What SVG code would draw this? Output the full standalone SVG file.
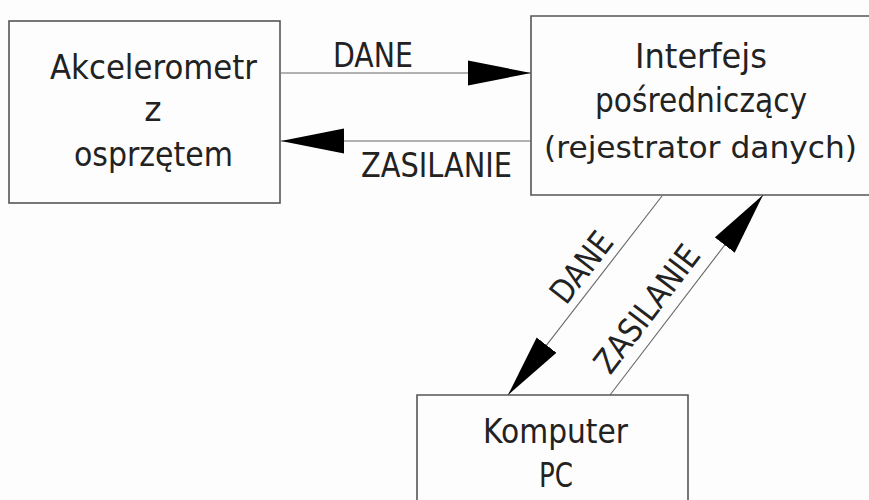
<svg xmlns="http://www.w3.org/2000/svg" width="869" height="500" viewBox="0 0 869 500">
  <style>
    .box { fill: none; stroke: #555; stroke-width: 1.6; }
    .lbl { font-family: "DejaVu Sans", "Liberation Sans", sans-serif; font-size: 33px; fill: #222; text-anchor: middle; }
    .conn { stroke: #666; stroke-width: 1.1; fill: none; }
  </style>
  <defs>
    <marker id="arr" markerUnits="userSpaceOnUse" markerWidth="64" markerHeight="26" viewBox="0 0 64 26" refX="63" refY="13" orient="auto">
      <path d="M0,0.5 L63,13 L0,25.5 Z" fill="#000"/>
    </marker>
  </defs>
  <rect width="869" height="500" fill="#fdfdfd"/>

  <g id="node-akcelerometr">
    <rect class="box" x="9" y="21" width="271" height="182"/>
    <text class="lbl" x="153.5" y="79" textLength="207" lengthAdjust="spacingAndGlyphs">Akcelerometr</text>
    <text class="lbl" x="153" y="121">z</text>
    <text class="lbl" x="153.5" y="166" textLength="159" lengthAdjust="spacingAndGlyphs">osprzętem</text>
  </g>

  <g id="node-interfejs">
    <path class="box" d="M869,16 L531,16 L531,195 L869,195"/>
    <text class="lbl" x="701" y="68" textLength="132" lengthAdjust="spacingAndGlyphs">Interfejs</text>
    <text class="lbl" x="701" y="112" textLength="212" lengthAdjust="spacingAndGlyphs">pośredniczący</text>
    <text class="lbl" x="700.5" y="158" style="font-size:31px" textLength="313" lengthAdjust="spacingAndGlyphs">(rejestrator danych)</text>
  </g>

  <g id="node-komputer">
    <path class="box" d="M417,500 L417,395 L688,395 L688,500"/>
    <text class="lbl" x="555.5" y="443" textLength="145" lengthAdjust="spacingAndGlyphs">Komputer</text>
    <text class="lbl" x="556" y="487" textLength="34" lengthAdjust="spacingAndGlyphs">PC</text>
  </g>

  <g id="connectors">
    <path class="conn" d="M281,73 L531,73" marker-end="url(#arr)"/>
    <path class="conn" d="M531,141 L281,141" marker-end="url(#arr)"/>
    <path class="conn" d="M662,196 L508,395" marker-end="url(#arr)"/>
    <path class="conn" d="M610,395 L763,195" marker-end="url(#arr)"/>
    <text class="lbl" x="373" y="67" textLength="80" lengthAdjust="spacingAndGlyphs">DANE</text>
    <text class="lbl" x="436.5" y="177" textLength="151" lengthAdjust="spacingAndGlyphs">ZASILANIE</text>
    <text class="lbl" transform="translate(590.5,274.3) rotate(-52.3)" x="0" y="0" textLength="80" lengthAdjust="spacingAndGlyphs">DANE</text>
    <text class="lbl" transform="translate(656,315.8) rotate(-52.6)" x="0" y="0" textLength="151" lengthAdjust="spacingAndGlyphs">ZASILANIE</text>
  </g>
</svg>
